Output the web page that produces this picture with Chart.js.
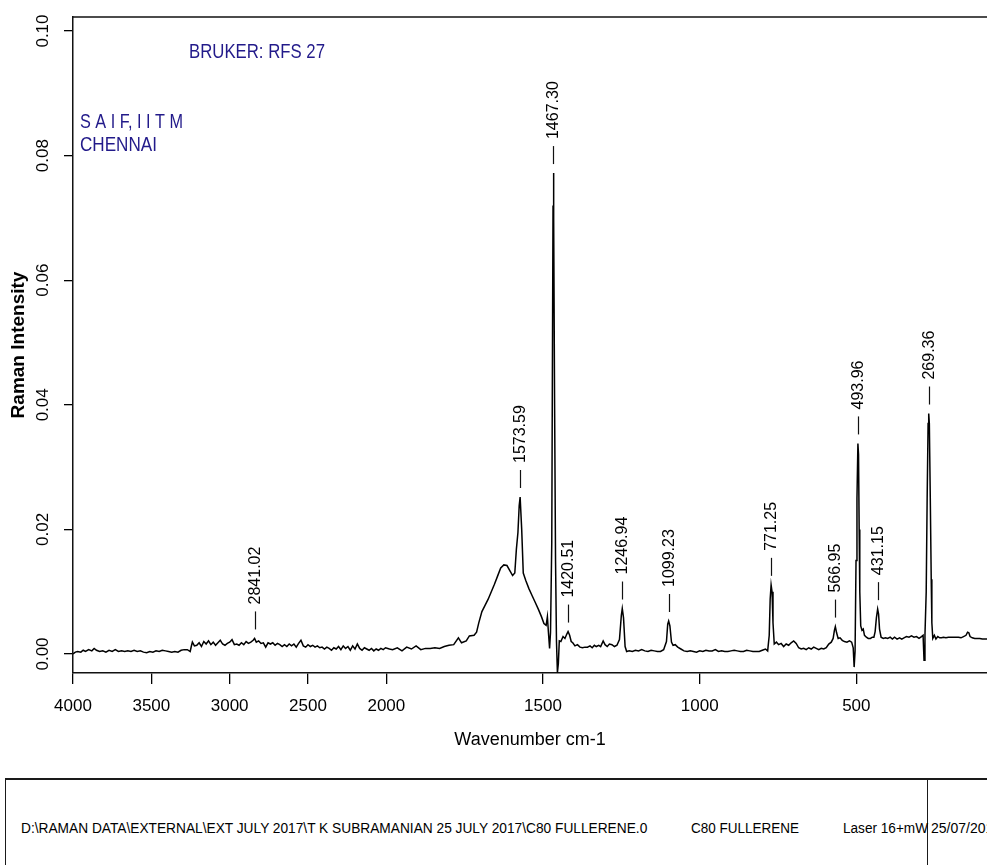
<!DOCTYPE html>
<html lang="en">
<head>
<meta charset="UTF-8">
<title>C60 Fullerene - Raman</title>
<script src="https://cdn.jsdelivr.net/npm/chart.js"></script>
<style>
  body { margin: 0; background: #fff; overflow: hidden; }
  .page { position: relative; width: 987px; height: 865px; overflow: hidden; font-family: "Liberation Sans", Arial, sans-serif; }
  #spectrum { position: absolute; left: 0; top: 0; }
  .footer { position: absolute; left: 5px; top: 778px; width: 1100px; height: 120px; border-top: 2px solid #1a1a1a; border-left: 1px solid #1a1a1a; }
  .divider { position: absolute; left: 921px; top: 0; width: 1px; height: 120px; background: #1a1a1a; }
  .ft { position: absolute; top: 40px; font-size: 14px; line-height: 16px; white-space: nowrap; transform-origin: left center; color: #000; }
</style>
</head>
<body>
<div class="page">
  <canvas id="spectrum" width="987" height="760"></canvas>
  <div class="footer">
    <div class="divider"></div>
    <span class="ft" style="left:15px" data-w="626">D:\RAMAN DATA\EXTERNAL\EXT JULY 2017\T K SUBRAMANIAN 25 JULY 2017\C80 FULLERENE.0</span>
    <span class="ft" style="left:685px" data-w="108">C80 FULLERENE</span>
    <span class="ft" style="left:837px" data-w="85">Laser 16+mW</span>
    <span class="ft" style="left:925px" data-w="70">25/07/2017</span>
  </div>
</div>

<script>
// spectrum (wavenumber cm-1 / intensity)
const wavenumber = [
  4000, 3985, 3970, 3950, 3935, 3920, 3900, 3880, 3865, 3850,
  3830, 3810, 3790, 3770, 3750, 3730, 3710, 3690, 3670, 3650,
  3630, 3610, 3590, 3570, 3550, 3530, 3510, 3490, 3470, 3450,
  3430, 3410, 3390, 3370, 3350, 3330, 3310, 3290, 3270, 3252,
  3245, 3238, 3225, 3210, 3195, 3180, 3165, 3150, 3135, 3120,
  3105, 3090, 3075, 3060, 3045, 3030, 3015, 3000, 2985, 2970,
  2955, 2940, 2925, 2910, 2895, 2880, 2865, 2850, 2841, 2830,
  2815, 2800, 2785, 2770, 2755, 2740, 2725, 2710, 2695, 2680,
  2665, 2650, 2635, 2620, 2605, 2590, 2575, 2560, 2545, 2530,
  2515, 2500, 2485, 2470, 2455, 2440, 2425, 2410, 2395, 2380,
  2365, 2350, 2335, 2320, 2305, 2290, 2275, 2260, 2245, 2230,
  2215, 2200, 2185, 2170, 2155, 2140, 2125, 2110, 2095, 2080,
  2065, 2050, 2035, 2020, 2005, 1990, 1980, 1965, 1950, 1935,
  1920, 1905, 1890, 1875, 1860, 1845, 1830, 1815, 1800, 1785,
  1770, 1760, 1745, 1735, 1720, 1712, 1705, 1695, 1685, 1675,
  1665, 1655, 1645, 1635, 1625, 1615, 1605, 1597, 1590, 1585,
  1580, 1576, 1573, 1568, 1563, 1555, 1545, 1535, 1525, 1515,
  1505, 1497, 1490, 1486, 1483, 1479, 1476, 1472, 1470, 1468,
  1467, 1465, 1463, 1460, 1457, 1454, 1451, 1448, 1443, 1436,
  1430, 1424, 1420, 1415, 1410, 1405, 1398, 1390, 1382, 1374,
  1366, 1358, 1350, 1343, 1336, 1330, 1322, 1316, 1308, 1302,
  1295, 1288, 1280, 1272, 1264, 1256, 1250, 1247, 1243, 1238,
  1233, 1225, 1215, 1205, 1195, 1185, 1175, 1165, 1155, 1145,
  1135, 1125, 1115, 1106, 1102, 1099, 1095, 1090, 1085, 1078,
  1070, 1060, 1050, 1040, 1030, 1020, 1010, 1000, 990, 980,
  970, 960, 950, 940, 930, 920, 910, 900, 890, 880,
  870, 860, 850, 840, 830, 820, 810, 800, 790, 783,
  778, 775, 772, 769, 766, 762, 755, 748, 740, 732,
  724, 716, 708, 700, 692, 684, 676, 668, 660, 652,
  644, 636, 628, 620, 612, 604, 596, 588, 580, 574,
  570, 567, 563, 558, 552, 545, 538, 530, 522, 515,
  510, 507, 504, 501, 498, 495, 493, 491, 489, 486,
  482, 478, 474, 468, 462, 455, 449, 444, 440, 436,
  432, 429, 426, 421, 414, 407, 400, 392, 385, 378,
  370, 362, 355, 348, 340, 332, 324, 316, 308, 300,
  292, 287, 284, 281, 277, 274, 271, 269, 267, 264,
  261, 259, 256, 251, 246, 240, 234, 228, 222, 214,
  206, 198, 190, 182, 174, 166, 158, 150, 145, 141,
  137, 130, 122, 114, 106, 98, 90, 82
];
const intensity = [
  0.0000, 0.0003, 0.0004, 0.0003, 0.0006, 0.0004, 0.0007, 0.0005, 0.0009, 0.0006,
  0.0004, 0.0005, 0.0003, 0.0006, 0.0004, 0.0007, 0.0004, 0.0005, 0.0004, 0.0005,
  0.0004, 0.0006, 0.0004, 0.0005, 0.0003, 0.0002, 0.0004, 0.0003, 0.0005, 0.0004,
  0.0006, 0.0005, 0.0004, 0.0003, 0.0004, 0.0003, 0.0006, 0.0007, 0.0007, 0.0004,
  0.0012, 0.0019, 0.0013, 0.0014, 0.0018, 0.0012, 0.0020, 0.0016, 0.0021, 0.0015,
  0.0019, 0.0014, 0.0018, 0.0022, 0.0016, 0.0014, 0.0017, 0.0019, 0.0023, 0.0015,
  0.0016, 0.0014, 0.0018, 0.0015, 0.0020, 0.0017, 0.0019, 0.0022, 0.0025, 0.0019,
  0.0021, 0.0017, 0.0018, 0.0011, 0.0018, 0.0016, 0.0018, 0.0014, 0.0017, 0.0015,
  0.0012, 0.0015, 0.0012, 0.0016, 0.0013, 0.0016, 0.0011, 0.0017, 0.0022, 0.0013,
  0.0011, 0.0015, 0.0012, 0.0014, 0.0011, 0.0013, 0.0010, 0.0011, 0.0008, 0.0011,
  0.0009, 0.0006, 0.0010, 0.0008, 0.0012, 0.0007, 0.0013, 0.0009, 0.0012, 0.0006,
  0.0013, 0.0008, 0.0016, 0.0009, 0.0006, 0.0010, 0.0008, 0.0006, 0.0009, 0.0005,
  0.0008, 0.0006, 0.0009, 0.0007, 0.0010, 0.0008, 0.0007, 0.0010, 0.0005, 0.0011,
  0.0008, 0.0013, 0.0007, 0.0009, 0.0009, 0.0010, 0.0009, 0.0012, 0.0014, 0.0015,
  0.0026, 0.0018, 0.0021, 0.0029, 0.0030, 0.0035, 0.0050, 0.0068, 0.0078, 0.0088,
  0.0100, 0.0112, 0.0125, 0.0138, 0.0143, 0.0142, 0.0133, 0.0126, 0.0130, 0.0168,
  0.0195, 0.0238, 0.0252, 0.0200, 0.0130, 0.0118, 0.0105, 0.0094, 0.0083, 0.0072,
  0.0060, 0.0049, 0.0046, 0.0060, 0.0037, 0.0009, 0.0035, 0.0180, 0.0460, 0.0720,
  0.0772, 0.0700, 0.0400, 0.0150, 0.0020, -0.0030, -0.0015, 0.0021, 0.0020, 0.0028,
  0.0025, 0.0032, 0.0036, 0.0030, 0.0020, 0.0018, 0.0013, 0.0015, 0.0011, 0.0010,
  0.0011, 0.0011, 0.0013, 0.0010, 0.0014, 0.0012, 0.0014, 0.0012, 0.0021, 0.0015,
  0.0012, 0.0016, 0.0015, 0.0012, 0.0014, 0.0023, 0.0062, 0.0073, 0.0058, 0.0012,
  0.0004, 0.0005, 0.0004, 0.0006, 0.0005, 0.0007, 0.0005, 0.0004, 0.0006, 0.0005,
  0.0004, 0.0004, 0.0007, 0.0020, 0.0048, 0.0053, 0.0045, 0.0019, 0.0014, 0.0015,
  0.0011, 0.0008, 0.0005, 0.0004, 0.0005, 0.0004, 0.0003, 0.0005, 0.0004, 0.0006,
  0.0005, 0.0005, 0.0007, 0.0004, 0.0005, 0.0004, 0.0004, 0.0005, 0.0006, 0.0005,
  0.0004, 0.0004, 0.0006, 0.0005, 0.0004, 0.0004, 0.0004, 0.0006, 0.0008, 0.0005,
  0.0030, 0.0088, 0.0111, 0.0100, 0.0050, 0.0016, 0.0019, 0.0015, 0.0017, 0.0012,
  0.0016, 0.0014, 0.0018, 0.0021, 0.0017, 0.0010, 0.0008, 0.0009, 0.0007, 0.0010,
  0.0008, 0.0011, 0.0009, 0.0007, 0.0009, 0.0008, 0.0010, 0.0016, 0.0019, 0.0025,
  0.0038, 0.0044, 0.0034, 0.0025, 0.0026, 0.0022, 0.0020, 0.0019, 0.0021, 0.0019,
  0.0010, -0.0021, 0.0005, 0.0150, 0.0250, 0.0338, 0.0320, 0.0200, 0.0100, 0.0045,
  0.0038, 0.0040, 0.0030, 0.0027, 0.0025, 0.0025, 0.0027, 0.0027, 0.0036, 0.0058,
  0.0072, 0.0064, 0.0040, 0.0027, 0.0025, 0.0026, 0.0025, 0.0027, 0.0024, 0.0027,
  0.0024, 0.0026, 0.0024, 0.0026, 0.0028, 0.0027, 0.0029, 0.0027, 0.0028, 0.0025,
  0.0028, 0.0030, -0.0010, 0.0030, 0.0100, 0.0250, 0.0370, 0.0386, 0.0370, 0.0250,
  0.0120, 0.0050, 0.0025, 0.0030, 0.0024, 0.0028, 0.0026, 0.0026, 0.0027, 0.0026,
  0.0027, 0.0027, 0.0027, 0.0027, 0.0027, 0.0026, 0.0028, 0.0030, 0.0035, 0.0034,
  0.0028, 0.0026, 0.0025, 0.0025, 0.0025, 0.0024, 0.0024, 0.0024
];

// picked peaks and the height of each one
const peakLabels = ['2841.02', '1573.59', '1467.30', '1420.51', '1246.94', '1099.23',
                    '771.25', '566.95', '493.96', '431.15', '269.36'];
const peakHeights = [0.0025, 0.0252, 0.0772, 0.0036, 0.0073, 0.0053,
                     0.0111, 0.0044, 0.0338, 0.0072, 0.0386];

const xTickLabels = [4000, 3500, 3000, 2500, 2000, 1500, 1000, 500];
const yTickLabels = [0.00, 0.02, 0.04, 0.06, 0.08, 0.10];

// OPUS style axis: above 2000 cm-1 the scale is squeezed to half
const toAxis = w => (w > 2000 ? 2000 + (w - 2000) / 2 : w);

const FONT = '"Liberation Sans", Arial, sans-serif';
Chart.defaults.font.family = FONT;
Chart.defaults.color = '#000';

const points = wavenumber.map((w, i) => ({ x: toAxis(w), y: intensity[i] }));

// blue header notes, squeezed to the narrow look of the original
const notes = [
  { text: 'BRUKER: RFS 27', x: 189, y: 52, w: 136 },
  { text: 'S A I F, I I T M', x: 80, y: 122, w: 103 },
  { text: 'CHENNAI', x: 80, y: 145, w: 77 }
];

const extras = {
  id: 'extras',
  afterDatasetsDraw(chart) {
    const { ctx, chartArea, scales } = chart;
    ctx.save();
    // top edge of the frame
    ctx.strokeStyle = '#111';
    ctx.lineWidth = 1.5;
    ctx.beginPath();
    ctx.moveTo(chartArea.left, chartArea.top);
    ctx.lineTo(chartArea.right, chartArea.top);
    ctx.stroke();

    // peak picks
    ctx.font = '16px ' + FONT;
    ctx.fillStyle = '#000';
    ctx.lineWidth = 1.2;
    peakLabels.forEach((lab, i) => {
      const px = Math.round(scales.x.getPixelForValue(toAxis(parseFloat(lab)))) + 0.5;
      const py = scales.y.getPixelForValue(peakHeights[i]);
      ctx.beginPath();
      ctx.moveTo(px, py - 9);
      ctx.lineTo(px, py - 27);
      ctx.stroke();
      ctx.save();
      ctx.translate(px, py - 34);
      ctx.rotate(-Math.PI / 2);
      ctx.textAlign = 'left';
      ctx.textBaseline = 'middle';
      ctx.fillText(lab, 0, 0);
      ctx.restore();
    });

    ctx.font = '21px ' + FONT;
    ctx.fillStyle = '#221a8a';
    ctx.textBaseline = 'middle';
    ctx.textAlign = 'left';
    notes.forEach(n => {
      const tw = ctx.measureText(n.text).width;
      ctx.save();
      ctx.translate(n.x, n.y);
      ctx.scale(n.w / tw, 1);
      ctx.fillText(n.text, 0, 0);
      ctx.restore();
    });
    ctx.restore();
  }
};

new Chart(document.getElementById('spectrum'), {
  type: 'line',
  data: {
    datasets: [{
      data: points,
      borderColor: '#000',
      borderWidth: 1.5,
      pointRadius: 0,
      tension: 0,
      fill: false
    }]
  },
  options: {
    responsive: false,
    animation: false,
    layout: { padding: { top: 17, left: 0, right: 0, bottom: 0 } },
    plugins: { legend: { display: false }, tooltip: { enabled: false } },
    scales: {
      x: {
        type: 'linear',
        reverse: true,
        min: 83,
        max: 3000,
        afterBuildTicks: s => { s.ticks = xTickLabels.map(w => ({ value: toAxis(w) })); },
        afterFit: s => { s.height = 87; },
        ticks: {
          autoSkip: false,
          maxRotation: 0,
          padding: 12,
          font: { size: 17 },
          callback: (v, i) => String(xTickLabels[i])
        },
        grid: { drawOnChartArea: false, tickLength: 11, color: '#000', lineWidth: 1.3 },
        border: { color: '#111', width: 1.5 },
        title: { display: true, text: 'Wavenumber cm-1', font: { size: 18 }, padding: { top: 0, bottom: 9 } }
      },
      y: {
        type: 'linear',
        min: -0.00305,
        max: 0.10225,
        afterBuildTicks: s => { s.ticks = yTickLabels.map(v => ({ value: v })); },
        afterFit: s => { s.width = 73; },
        ticks: {
          minRotation: 90,
          maxRotation: 90,
          crossAlign: 'center',
          padding: 4,
          font: { size: 17 },
          callback: v => v.toFixed(2)
        },
        grid: { drawOnChartArea: false, tickLength: 9, color: '#000', lineWidth: 1.3 },
        border: { color: '#111', width: 1.5 },
        title: { display: true, text: 'Raman Intensity', font: { size: 19, weight: 'bold' }, padding: { top: 7, bottom: 0 } }
      }
    }
  },
  plugins: [extras]
});

// footer strip: squeeze each text to the width it has in the original
document.querySelectorAll('.ft').forEach(el => {
  const w = el.getBoundingClientRect().width;
  el.style.transform = 'scaleX(' + (parseFloat(el.dataset.w) / w).toFixed(3) + ')';
});
</script>
</body>
</html>
